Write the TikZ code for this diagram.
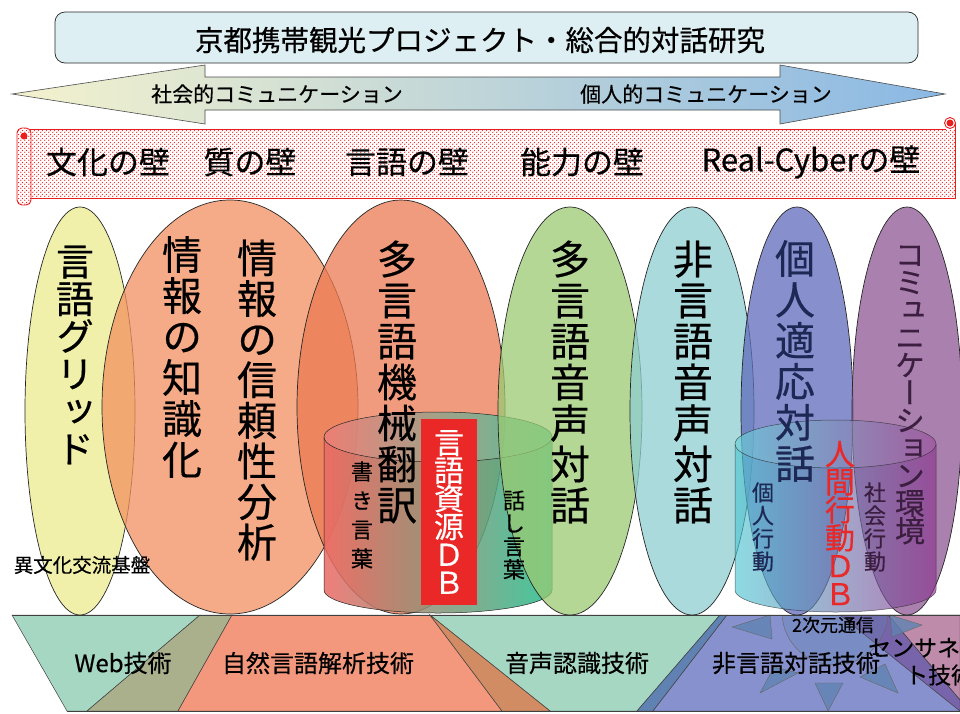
\documentclass[tikz,border=0pt]{standalone}
\usepackage{fontspec}
\newfontfamily\jp[FakeBold=0.45]{Noto Sans CJK JP}
\newfontfamily\jpv[RawFeature=+vert,FakeBold=0.45]{Noto Sans CJK JP}
\usetikzlibrary{patterns,patterns.meta}
\newcommand\fsz[2]{\fontsize{#1}{#2}\selectfont}
\tikzdeclarepattern{
  name=reddots,
  type=uncolored,
  bounding box={(0pt,0pt) and (4pt,4pt)},
  tile size={(4pt,4pt)},
  code={\fill (1pt,1pt) circle (0.8pt); \fill (3pt,3pt) circle (0.8pt);}
}
\definecolor{titleF}{RGB}{221,239,243}
\definecolor{arrL}{RGB}{244,242,205}
\definecolor{arrM}{RGB}{212,230,232}
\definecolor{arrR}{RGB}{138,184,228}
\definecolor{eYel}{RGB}{235,235,142}
\definecolor{eInf}{RGB}{242,144,95}
\definecolor{eTra}{RGB}{235,122,82}
\definecolor{eGrn}{RGB}{155,202,115}
\definecolor{eCya}{RGB}{142,206,208}
\definecolor{eBlu}{RGB}{95,108,188}
\definecolor{ePur}{RGB}{142,88,148}
\definecolor{c1L}{RGB}{236,105,100}
\definecolor{c1M}{RGB}{205,140,140}
\definecolor{c1R}{RGB}{35,190,140}
\definecolor{c2L}{RGB}{80,200,212}
\definecolor{c2M}{RGB}{70,125,200}
\definecolor{c2R}{RGB}{140,50,140}
\definecolor{dbRed}{RGB}{234,40,40}
\definecolor{bTeal}{RGB}{165,215,195}
\definecolor{bOlive}{RGB}{170,175,140}
\definecolor{bSalm}{RGB}{243,152,125}
\definecolor{bBrown}{RGB}{210,140,100}
\definecolor{bSteel}{RGB}{95,130,178}
\definecolor{bBlue}{RGB}{135,145,205}
\definecolor{bPink}{RGB}{190,140,170}
\definecolor{bDPur}{RGB}{120,100,170}
\definecolor{navyT}{RGB}{30,40,85}
\definecolor{purT}{RGB}{60,30,65}
\definecolor{scrollR}{RGB}{235,30,30}
\begin{document}
\begin{tikzpicture}[x=1pt,y=-1pt,
  outl/.style={draw=black!85, line width=0.7pt},
  ell/.style={outl, fill opacity=0.75},
  vlab/.style={align=center, inner sep=0pt, font=\jpv\fsz{40}{41}},
  hlab/.style={inner sep=0pt, font=\jp\fsz{24}{24}},
  band/.style={draw=black!75, line width=0.5pt},
  ray/.style={draw=black!60, line width=0.4pt, fill=bSteel, fill opacity=0.8},
  scr/.style={draw=scrollR, line width=0.9pt}]
\useasboundingbox (0,0) rectangle (960,713);
\fill[white] (0,0) rectangle (960,713);

% ---------- title ----------
\draw[outl, fill=titleF, rounded corners=10pt] (55,12) rectangle (918,63);
\node[font=\jp\fsz{28.5}{30}, inner sep=0pt] (title) at (480,40) {京都携帯観光プロジェクト・総合的対話研究};

% ---------- double arrow ----------
\path[draw=black!70, line width=0.6pt, left color=arrL, middle color=arrM, right color=arrR]
  (12,94) -- (205,65) -- (205,77) -- (780,77) -- (780,65) -- (945,94) -- (780,124)
  -- (780,110) -- (205,110) -- (205,124) -- cycle;
\node[font=\jp\fsz{21}{22}, inner sep=0pt] (soc) at (277,94) {社会的コミュニケーション};
\node[font=\jp\fsz{21}{22}, inner sep=0pt] (ind) at (706,94) {個人的コミュニケーション};

% ---------- scroll ----------
\fill[white] (24,129) rectangle (955,198);
\path[pattern=reddots, pattern color=scrollR] (24,129) rectangle (955,198);
\draw[scr] (24,129) -- (946,129);
\draw[scr] (955,123) -- (955,198) -- (31,198);
\draw[scr, fill=white] (950,123) circle (5.5);
\fill[scrollR] (950,123) circle (3.5);
\filldraw[scr, fill=white, rounded corners=5pt] (17,128) rectangle (31,205);
\path[pattern=reddots, pattern color=scrollR, rounded corners=5pt] (17,128) rectangle (31,205);
\fill[scrollR] (24,136) circle (3.5);
\node[font=\jp\fsz{31}{32}, inner sep=0pt] (w1) at (108,162) {文化の壁};
\node[font=\jp\fsz{31}{32}, inner sep=0pt] (w2) at (250,162) {質の壁};
\node[font=\jp\fsz{31}{32}, inner sep=0pt] (w3) at (407,162) {言語の壁};
\node[font=\jp\fsz{31}{32}, inner sep=0pt] (w4) at (582,162) {能力の壁};
\node[font=\jp\fsz{31}{32}, inner sep=0pt] (w5) at (811,162) {Real-Cyberの壁};

% ---------- bottom band ----------
\path[band, fill=bTeal]  (12,615) -- (200,615) -- (87,711) -- (67,711) -- cycle;
\path[band, fill=bOlive] (200,615) -- (232,615) -- (178,711) -- (87,711) -- cycle;
\path[band, fill=bSalm]  (232,615) -- (430,615) -- (502,711) -- (178,711) -- cycle;
\path[band, fill=bTeal]  (430,615) -- (720,615) -- (637,711) -- (550,711) -- cycle;
\path[band, fill=bBrown] (430,615) -- (550,711) -- (502,711) -- cycle;
\path[band, fill=bSteel] (720,615) -- (727,615) -- (653,711) -- (637,711) -- cycle;
\path[band, fill=bBlue]  (727,615) -- (960,615) -- (960,711) -- (653,711) -- cycle;
\path[band, fill=bPink]  (888,615) -- (960,615) -- (960,700) -- cycle;
\path[band, fill=bDPur]  (840,615) -- (888,615) -- (960,700) -- (960,711) -- cycle;
\begin{scope}
  \clip (0,615) rectangle (960,711);
  \draw[draw=black!60, line width=0.4pt, fill=bSteel, fill opacity=0.3] (835,612) circle (53);
\end{scope}
\path[ray] (732,627) -- (770,615) -- (772,639) -- cycle;
\path[ray] (890,615) -- (922,625) -- (892,637) -- cycle;
\path[ray] (760,693) -- (774,667) -- (798,673) -- cycle;
\path[ray] (815,683) -- (843,683) -- (828,711) -- cycle;
\path[ray] (860,677) -- (885,664) -- (898,693) -- cycle;
\draw[band] (12,615) -- (960,615);
\draw[band] (67,711) -- (960,711);
\node[hlab] (web) at (123,663) {Web技術};
\node[hlab] (nlp) at (318,663) {自然言語解析技術};
\node[hlab] (asr) at (577,663) {音声認識技術};
\node[hlab] (nvd) at (796,663) {非言語対話技術};
\node[font=\jp\fsz{18}{18}, inner sep=0pt] (twod) at (833,625) {2次元通信};
\node[font=\jp\fsz{23}{23}, inner sep=0pt, anchor=west] (sn1) at (868,648) {センサネッ};
\node[font=\jp\fsz{23}{23}, inner sep=0pt, anchor=west] (sn2) at (905,675) {ト技術};

% ---------- ellipses ----------
\draw[ell, fill=eYel] (80,411) ellipse [x radius=55, y radius=204];
\draw[ell, fill=eInf] (230,407) ellipse [x radius=128, y radius=207];
\draw[ell, fill=eTra] (401,407) ellipse [x radius=104, y radius=207];

% cylinder 1
\path[left color=c1L, middle color=c1M, right color=c1R, fill opacity=0.85]
  (324,437) -- (324,590) arc[start angle=180, end angle=0, x radius=114, y radius=23]
  -- (552,437) arc[start angle=0, end angle=-180, x radius=114, y radius=25] -- cycle;
\draw[outl, line width=0.5pt] (324,437) -- (324,590) arc[start angle=180, end angle=0, x radius=114, y radius=23] -- (552,437);
\draw[outl, line width=0.5pt, fill=white, fill opacity=0.12] (438,437) ellipse [x radius=114, y radius=25];

\draw[ell, fill=eGrn] (570,411) ellipse [x radius=72, y radius=204];
\draw[ell, fill=eCya] (692,411) ellipse [x radius=62, y radius=204];
\draw[ell, fill=eBlu] (797,411) ellipse [x radius=56, y radius=204];
\draw[ell, fill=ePur] (907,411) ellipse [x radius=55, y radius=204];

% cylinder 2
\path[left color=c2L, middle color=c2M, right color=c2R, fill opacity=0.65]
  (735,444) -- (735,590) arc[start angle=180, end angle=0, x radius=100.5, y radius=22]
  -- (936,444) arc[start angle=0, end angle=-180, x radius=100.5, y radius=24] -- cycle;
\draw[outl, line width=0.5pt, draw opacity=0.7] (735,444) -- (735,590) arc[start angle=180, end angle=0, x radius=100.5, y radius=22] -- (936,444);
\draw[outl, line width=0.5pt, draw opacity=0.7, fill=white, fill opacity=0.1] (835.5,444) ellipse [x radius=100.5, y radius=24];

% red DB box
\node[fill=dbRed, minimum width=56pt, minimum height=186pt, inner sep=0pt] (dbbox) at (449,512) {};
\node[align=center, inner sep=0pt, text=white, font=\jpv\fsz{30}{28}] (db1) at (449,512) {言\\語\\資\\源\\Ｄ\\Ｂ};

% ---------- labels ----------
\node[vlab, font=\jpv\fsz{38}{37.5}] (lg) at (75,355) {言\\語\\グ\\リ\\ッ\\ド};
\node[vlab] (ik) at (182,357) {情\\報\\の\\知\\識\\化};
\node[vlab, font=\jpv\fsz{40}{40.6}] (ir) at (257,400) {情\\報\\の\\信\\頼\\性\\分\\析};
\node[vlab] (mt) at (397,382) {多\\言\\語\\機\\械\\翻\\訳};
\node[vlab] (ms) at (570,382) {多\\言\\語\\音\\声\\対\\話};
\node[vlab] (nv) at (693,382) {非\\言\\語\\音\\声\\対\\話};
\node[vlab, text=navyT] (pa) at (795,361) {個\\人\\適\\応\\対\\話};
\node[vlab, text=purT, font=\jpv\fsz{30}{27.6}] (ce) at (910,395) {コ\\ミ\\ュ\\ニ\\ケ\\ー\\シ\\ョ\\ン\\環\\境};
\node[font=\jp\fsz{19.5}{20}, inner sep=0pt] (ibk) at (82,565) {異文化交流基盤};
\node[align=center, inner sep=0pt, font=\jpv\fsz{22}{29}] (kk) at (362,515) {書\\き\\言\\葉};
\node[align=center, inner sep=0pt, font=\jpv\fsz{22}{23}] (hk) at (514,535) {話\\し\\言\\葉};
\node[align=center, inner sep=0pt, text=navyT, font=\jpv\fsz{22}{23}] (pb) at (763,527) {個\\人\\行\\動};
\node[align=center, inner sep=0pt, text=purT, font=\jpv\fsz{22}{23}] (sb) at (875,527) {社\\会\\行\\動};
\node[align=center, inner sep=0pt, text=dbRed, font=\jpv\fsz{30}{28}] (db2) at (840,523) {人\\間\\行\\動\\Ｄ\\Ｂ};
\end{tikzpicture}
\end{document}
